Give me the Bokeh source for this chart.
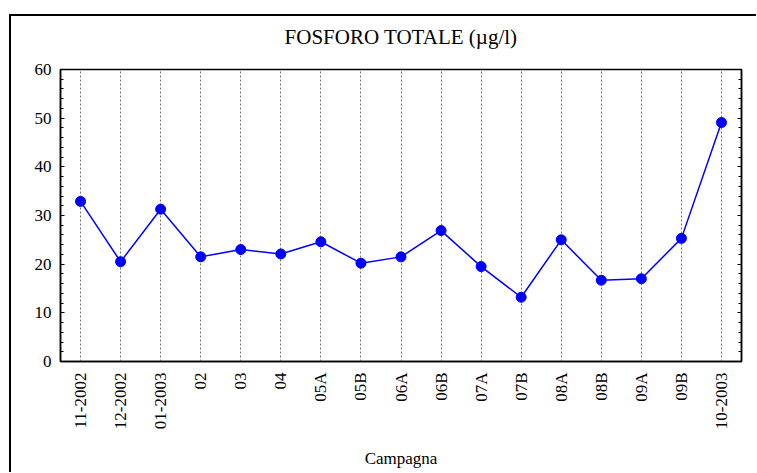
import math
from bokeh.plotting import figure
from bokeh.models import LinearAxis, SingleIntervalTicker, Title, CustomJSTickFormatter
from bokeh.embed import file_html
from bokeh.resources import INLINE

categories = ["11-2002", "12-2002", "01-2003", "02", "03", "04", "05A", "05B",
              "06A", "06B", "07A", "07B", "08A", "08B", "09A", "09B", "10-2003"]
values = [32.9, 20.5, 31.3, 21.5, 23.0, 22.1, 24.6, 20.2,
          21.5, 26.9, 19.5, 13.2, 25.0, 16.7, 17.0, 25.3, 49.1]
title_text = "FOSFORO TOTALE (\u00b5g/l)"
x_label = "Campagna"

FONT = "Liberation Serif"

p = figure(x_range=categories, y_range=(0, 60), width=756, height=472,
           output_backend="svg", toolbar_location=None,
           min_border_left=60, min_border_right=15, min_border_top=69,
           min_border_bottom=111)
p.border_fill_color = None
p.background_fill_color = "white"
p.styles = {
    "background-image": "linear-gradient(black, black), linear-gradient(black, black)",
    "background-repeat": "no-repeat",
    "background-position": "9px 14px, 9px 14px",
    "background-size": "2px 100%, 100% 2px",
}

p.title = Title(text=title_text, align="center", text_font=FONT,
                text_font_size="21px", text_font_style="normal",
                text_color="black", standoff=42)

p.outline_line_color = "black"
p.outline_line_width = 1.5
p.outline_line_alpha = 1.0

# grid
p.ygrid.grid_line_color = None
p.xgrid.grid_line_color = "#707070"
p.xgrid.grid_line_dash = "2 2"
p.xgrid.grid_line_width = 1

# y axis
ax = p.yaxis[0]
ax.ticker = SingleIntervalTicker(interval=10, num_minor_ticks=5)
ax.major_tick_in = 4
ax.major_tick_out = 0
ax.minor_tick_in = 3
ax.minor_tick_out = 0
ax.axis_line_width = 1.5
ax.major_tick_line_width = 1.2
ax.minor_tick_line_width = 1.2
ax.major_label_text_font = FONT
ax.major_label_text_font_size = "17px"
ax.major_label_text_color = "black"
ax.major_label_standoff = 9

ra = LinearAxis(ticker=SingleIntervalTicker(interval=10, num_minor_ticks=5),
                formatter=CustomJSTickFormatter(code="return ''"))
ra.major_tick_in = 4
ra.major_tick_out = 0
ra.minor_tick_in = 3
ra.minor_tick_out = 0
ra.axis_line_width = 1.5
ra.major_tick_line_width = 1.2
ra.minor_tick_line_width = 1.2
ra.major_label_standoff = 0
p.add_layout(ra, "right")

# x axis
xa = p.xaxis[0]
xa.axis_line_width = 1.5
xa.major_tick_in = 0
xa.major_tick_out = 0
xa.major_label_orientation = math.pi / 2
xa.major_label_text_font = FONT
xa.major_label_text_font_size = "17px"
xa.major_label_text_color = "black"
xa.major_label_standoff = 11
xa.axis_label = x_label
xa.axis_label_text_font = FONT
xa.axis_label_text_font_size = "17px"
xa.axis_label_text_font_style = "normal"
xa.axis_label_text_color = "black"
xa.axis_label_standoff = 17

p.line(categories, values, line_color="#0000FF", line_width=1.5)
p.scatter(categories, values, size=10, fill_color="#0000FF", line_color="#0000FF")

open("out.html", "w").write(file_html(p, INLINE))
